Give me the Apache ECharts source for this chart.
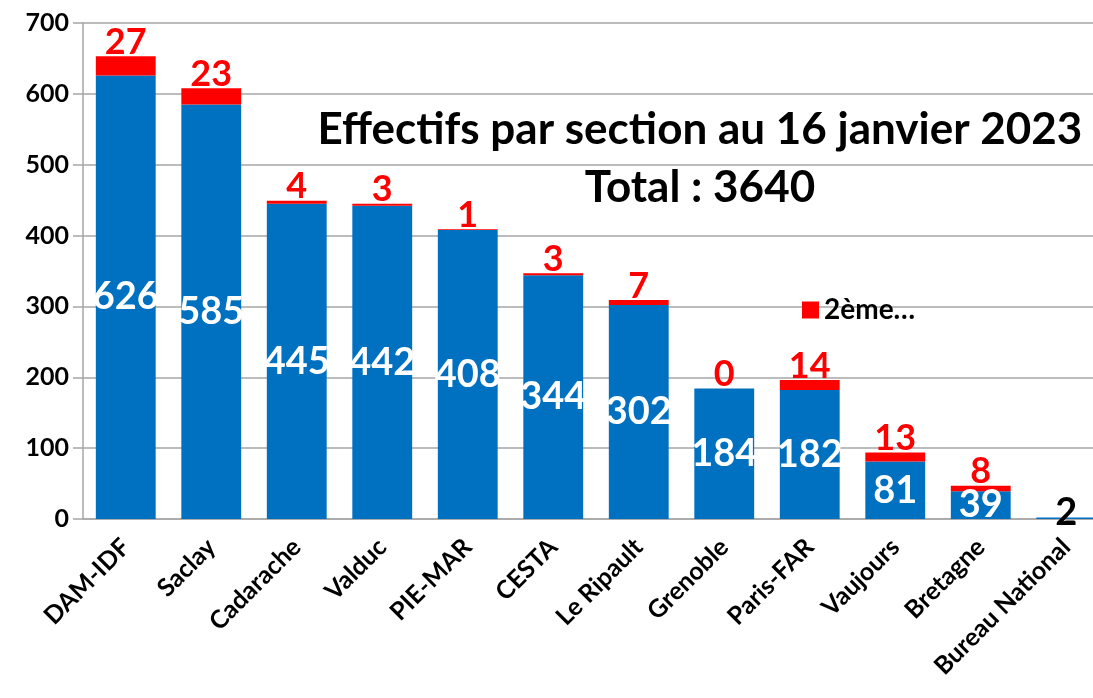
<!DOCTYPE html>
<html>
<head>
<meta charset="utf-8">
<script src="https://cdn.jsdelivr.net/npm/echarts@6/dist/echarts.min.js"></script>
<style>
  html, body { margin: 0; padding: 0; background: #fff; overflow: hidden; }
  #chart { width: 1109px; height: 698px; }
</style>
</head>
<body>
<div id="chart"></div>
<script>
// données
const sections = ['DAM-IDF', 'Saclay', 'Cadarache', 'Valduc', 'PIE-MAR', 'CESTA',
  'Le Ripault', 'Grenoble', 'Paris-FAR', 'Vaujours', 'Bretagne', 'Bureau National']
const actifs = [626, 585, 445, 442, 408, 344, 302, 184, 182, 81, 39, 2]
const deuxieme = [27, 23, 4, 3, 1, 3, 7, 0, 14, 13, 8, null]
const yTicks = [0, 100, 200, 300, 400, 500, 600, 700]
const titre = 'Effectifs par section au 16 janvier 2023'
const total = 'Total : 3640'

const FONT = 'Lato'
const BLUE = '#0070C0'
const RED = '#FF0000'

const chart = echarts.init(document.getElementById('chart'))

// Bureau National : étiquette noire
const blueData = actifs.map((v, i) => {
  if (i === sections.length - 1) {
    return { value: v, label: { color: '#000', position: 'inside', offset: [0, -6] } }
  }
  return v
})

chart.setOption({
  backgroundColor: '#fff',
  animation: false,
  title: {
    text: titre + '\n' + total,
    left: 695,
    top: 96,
    textAlign: 'center',
    textStyle: {
      fontFamily: FONT, fontWeight: 'bold', fontSize: 44, color: '#000',
      lineHeight: 58, align: 'center'
    }
  },
  legend: {
    data: ['2ème…'],
    left: 797,
    top: 291,
    itemWidth: 17,
    itemHeight: 17,
    itemGap: 6,
    icon: 'rect',
    textStyle: { fontFamily: FONT, fontWeight: 'bold', fontSize: 28, color: '#000' }
  },
  grid: { left: 83, right: 0, top: 23, bottom: 179, containLabel: false },
  xAxis: {
    type: 'category',
    data: sections,
    axisLine: { lineStyle: { color: '#a6a6a6', width: 1.5 } },
    axisTick: { show: false },
    axisLabel: {
      interval: 0, rotate: 45, margin: 24,
      fontFamily: FONT, fontWeight: 'bold', fontSize: 25, color: '#000'
    }
  },
  yAxis: {
    type: 'value',
    min: yTicks[0],
    max: yTicks[yTicks.length - 1],
    interval: 100,
    axisLine: { show: true, lineStyle: { color: '#a6a6a6', width: 1.5 } },
    axisTick: { show: true, length: 10, lineStyle: { color: '#a6a6a6', width: 1.5 } },
    splitLine: { lineStyle: { color: '#a6a6a6', width: 1.5 } },
    axisLabel: {
      margin: 14,
      fontFamily: FONT, fontWeight: 'bold', fontSize: 25, color: '#000'
    }
  },
  series: [
    {
      name: 'Actifs',
      type: 'bar',
      stack: 'total',
      barCategoryGap: '30%',
      data: blueData,
      itemStyle: { color: BLUE },
      label: {
        show: true, position: 'inside',
        fontFamily: FONT, fontWeight: 'bold', fontSize: 38, color: '#fff'
      }
    },
    {
      name: '2ème…',
      type: 'bar',
      stack: 'total',
      barCategoryGap: '30%',
      data: deuxieme,
      itemStyle: { color: RED },
      label: {
        show: true, position: 'top', distance: -4,
        fontFamily: FONT, fontWeight: 'bold', fontSize: 36, color: RED
      }
    }
  ]
})
</script>
</body>
</html>
